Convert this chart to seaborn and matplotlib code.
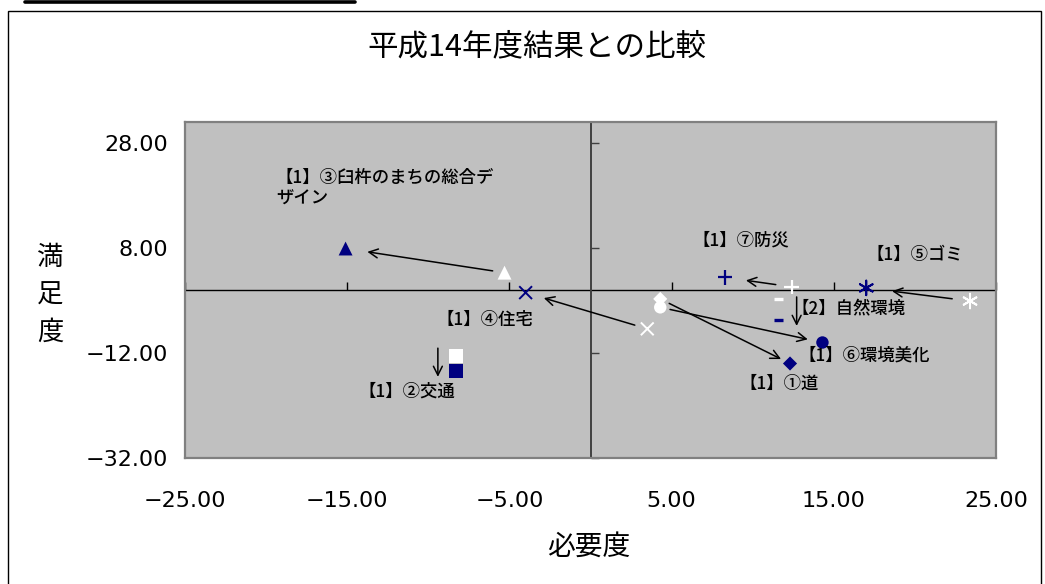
import numpy as np
import pandas as pd
import matplotlib
matplotlib.use("Agg")
import matplotlib.pyplot as plt
from matplotlib.markers import MarkerStyle, TICKUP, TICKRIGHT
from matplotlib.patches import Rectangle
from matplotlib.lines import Line2D
import seaborn as sns

sns.set_style("white")
plt.rcParams["font.family"] = ["DejaVu Sans", "Noto Sans CJK JP"]
plt.rcParams["axes.unicode_minus"] = True
CJK = ["Noto Sans CJK JP", "DejaVu Sans"]

# ---- data -------------------------------------------------------------
items = [
    "【1】③臼杵のまちの総合デ\nザイン",
    "【1】④住宅",
    "【1】⑦防災",
    "【1】⑤ゴミ",
    "【2】自然環境",
    "【1】⑥環境美化",
    "【1】①道",
    "【1】②交通",
]
# 平成14年度 results
prev_need = [-5.3, 3.5, 12.4, 23.4, 11.6, 4.3, 4.3, -8.3]
prev_sat = [3.3, -7.4, 0.6, -2.1, -1.7, -3.3, -1.7, -12.6]
# current results
curr_need = [-15.1, -4.0, 8.3, 17.0, 11.6, 14.3, 12.3, -8.3]
curr_sat = [7.9, -0.5, 2.4, 0.4, -5.7, -10.0, -14.0, -15.4]

years = ["平成14年度", "今回"]
x_ticks = [-25, -15, -5, 5, 15, 25]
y_ticks = [-32, -12, 8, 28]

# ---- styles -----------------------------------------------------------
marker_styles = ["^", "x", "+", (6, 2, 0), "_", "o", "D", "s"]
marker_sizes = [100, 85, 110, 110, 42, 80, 52, 95]
marker_lw = [0, 1.4, 1.6, 1.4, 2.4, 0, 0, 0]
palette = {"平成14年度": "white", "今回": "#000080"}
# label anchor (left, vertical centre) in data units
label_pos = [(-19.4, 19.4), (-9.5, -5.7), (6.3, 9.4), (17.0, 6.7),
             (12.4, -3.5), (12.8, -12.4), (9.2, -17.9), (-14.3, -19.4)]
# arrow gap at tail / head and horizontal shift, in pixels
arrow_geom = [(12, 22, 0), (13, 19, 0), (16, 21, 0), (18, 26, 0),
              (-2, -6, 18), (10, 15, 0), (10, 10, 0), (-8, -6, -18)]

rows = []
for i, it in enumerate(items):
    rows.append((it, years[0], prev_need[i], prev_sat[i]))
    rows.append((it, years[1], curr_need[i], curr_sat[i]))
df = pd.DataFrame(rows, columns=["項目", "年度", "必要度", "満足度"])

W, H = 1045, 584
fig = plt.figure(figsize=(W / 100, H / 100), dpi=100)
fig.patch.set_facecolor("white")
ax = fig.add_axes([185 / W, (H - 458) / H, 811 / W, 336 / H])
ax.set_facecolor("#C0C0C0")
for sp in ax.spines.values():
    sp.set_visible(True)
    sp.set_color("#808080")
    sp.set_linewidth(1.6)

ax.set_xlim(-25, 25)
ax.set_ylim(-32, 32)

# axes crossing at the origin
ax.axhline(0, color="black", lw=1.0, zorder=2)
ax.axvline(0, color="#404040", lw=1.4, zorder=2)
ax.plot(x_ticks, [0] * len(x_ticks), ls="none", marker=TICKUP,
        markersize=5.5, mew=1.0, color="black", zorder=2, clip_on=False)
ax.plot([0] * len(y_ticks), y_ticks, ls="none", marker=TICKRIGHT,
        markersize=5.5, mew=1.0, color="#404040", zorder=2, clip_on=False)

# points
for i, it in enumerate(items):
    sub = df[df["項目"] == it]
    mk = marker_styles[i]
    if MarkerStyle(mk).is_filled():
        kw = dict(edgecolor="face", linewidth=0)
    else:
        kw = dict(linewidth=marker_lw[i])
    sns.scatterplot(data=sub, x="必要度", y="満足度", hue="年度",
                    palette=palette, marker=mk, s=marker_sizes[i],
                    legend=False, ax=ax, zorder=4, **kw)

# tick labels on the plot edges
ax.set_xticks(x_ticks)
ax.set_xticklabels([f"{v:.2f}".replace("-", "\u2212") for v in x_ticks])
ax.set_yticks(y_ticks)
ax.set_yticklabels([f"{v:.2f}".replace("-", "\u2212") for v in y_ticks])
ax.tick_params(axis="x", length=0, pad=24, labelsize=16, colors="black")
ax.tick_params(axis="y", length=0, pad=12, labelsize=16, colors="black")
ax.set_xlabel("")
ax.set_ylabel("")
ax.grid(False)

# item labels
for i, it in enumerate(items):
    lx, ly = label_pos[i]
    ax.text(lx, ly, it, ha="left", va="center", fontsize=12.5,
            family=CJK, weight="medium", color="black",
            linespacing=1.25, zorder=5)

# arrows from previous to current position
fig.canvas.draw()
inv = ax.transData.inverted()
for i in range(len(items)):
    p0 = ax.transData.transform((prev_need[i], prev_sat[i]))
    p1 = ax.transData.transform((curr_need[i], curr_sat[i]))
    u = (p1 - p0) / np.linalg.norm(p1 - p0)
    g0, g1, dx = arrow_geom[i]
    tail = p0 + u * g0 + np.array([dx, 0])
    head = p1 - u * g1 + np.array([dx, 0])
    ax.annotate("", xy=inv.transform(head), xytext=inv.transform(tail),
                arrowprops=dict(arrowstyle="->", color="black", lw=1.1,
                                shrinkA=0, shrinkB=0, mutation_scale=16),
                zorder=3)

# titles
fig.text(537 / W, 1 - 47 / H, "平成14年度結果との比較", ha="center",
         va="center", fontsize=22, family=CJK, color="black")
fig.text(589 / W, 1 - 547 / H, "必要度", ha="center", va="center",
         fontsize=20, family=CJK, color="black")
fig.text(50 / W, 1 - 295 / H, "満\n足\n度", ha="center", va="center",
         fontsize=19, family=CJK, color="black", linespacing=1.5)

# chart frame and header rule
fig.add_artist(Rectangle((8 / W, -0.02), (1041 - 8) / W, (H - 10.5) / H + 0.02,
                         transform=fig.transFigure, fill=False,
                         edgecolor="black", lw=1.0))
fig.add_artist(Line2D([25 / W, 355 / W], [1 - 1.6 / H] * 2,
                      transform=fig.transFigure, color="black", lw=2.6))

fig.savefig("out.png", dpi=100)
